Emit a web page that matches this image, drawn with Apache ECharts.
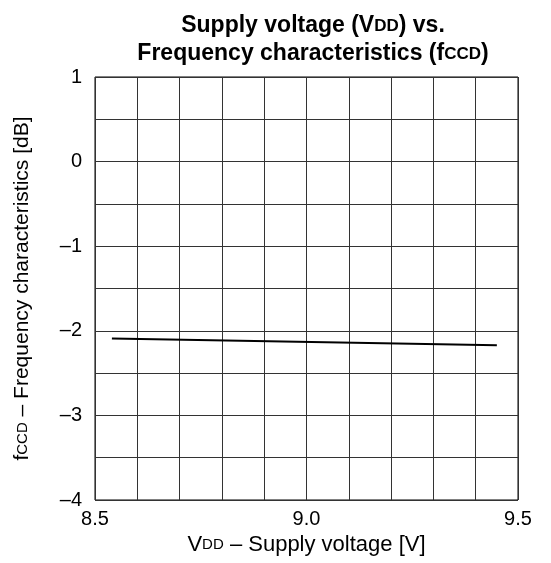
<!DOCTYPE html>
<html>
<head>
<meta charset="utf-8">
<script src="https://cdn.jsdelivr.net/npm/echarts@6/dist/echarts.min.js"></script>
<style>
  html, body { margin: 0; padding: 0; background: #fff; }
  #chart { width: 551px; height: 563px; }
</style>
</head>
<body>
<div id="chart"></div>
<script>
// supply voltage [V] vs frequency characteristics [dB]
const vdd = [8.54, 9.45];
const fccd = [-2.09, -2.17];

const xTickLabels = ['8.5', '9.0', '9.5'];
const yTickLabels = ['1', '0', '–1', '–2', '–3', '–4'];

const FONT = 'Liberation Sans, Arial, sans-serif';

function initChart() {
    let chart = echarts.init(document.getElementById('chart'));
    let points = vdd.map(function (v, i) { return [v, fccd[i]]; });

    let option = {
        animation: false,
        title: {
            text: '{b|Supply voltage (V}{s|DD}{b|) vs.}\n{b|Frequency characteristics (f}{s|CCD}{b|)}',
            left: 308,
            top: 7,
            textAlign: 'center',
            textStyle: {
                fontFamily: FONT,
                rich: {
                    b: { fontSize: 23, fontWeight: 'bold', color: '#000', fontFamily: FONT, lineHeight: 28 },
                    s: { fontSize: 17, fontWeight: 'bold', color: '#000', fontFamily: FONT, lineHeight: 28 }
                }
            }
        },
        grid: {
            left: 95,
            top: 77,
            width: 423,
            height: 423,
            show: true,
            borderColor: '#000',
            borderWidth: 1
        },
        xAxis: {
            type: 'value',
            min: 8.5,
            max: 9.5,
            interval: 0.1,
            name: '{n|V}{s|DD}{n| – Supply voltage [V]}',
            nameLocation: 'middle',
            nameGap: 31,
            nameTextStyle: {
                rich: {
                    n: { fontSize: 22, color: '#000', fontFamily: FONT },
                    s: { fontSize: 15, color: '#000', fontFamily: FONT }
                }
            },
            axisLine: { show: false },
            axisTick: { show: false },
            splitLine: { show: true, lineStyle: { color: '#333', width: 1 } },
            axisLabel: {
                color: '#000',
                fontSize: 20,
                fontFamily: FONT,
                margin: 9,
                formatter: function (v) {
                    let k = Math.round((v - 8.5) * 2);
                    if (Math.abs((v - 8.5) * 2 - k) < 1e-6) return xTickLabels[k];
                    return '';
                }
            }
        },
        yAxis: {
            type: 'value',
            min: -4,
            max: 1,
            interval: 0.5,
            name: '{n|f}{s|CCD}{n| – Frequency characteristics [dB]}',
            nameLocation: 'middle',
            nameRotate: 90,
            nameGap: 62,
            nameTextStyle: {
                rich: {
                    n: { fontSize: 21, color: '#000', fontFamily: FONT },
                    s: { fontSize: 15, color: '#000', fontFamily: FONT }
                }
            },
            axisLine: { show: false },
            axisTick: { show: false },
            splitLine: { show: true, lineStyle: { color: '#333', width: 1 } },
            axisLabel: {
                color: '#000',
                fontSize: 20,
                fontFamily: FONT,
                margin: 13,
                formatter: function (v) {
                    let k = Math.round(1 - v);
                    if (Math.abs((1 - v) - k) < 1e-6) return yTickLabels[k];
                    return '';
                }
            }
        },
        series: [
            {
                type: 'line',
                data: points,
                showSymbol: false,
                lineStyle: { color: '#000', width: 2 }
            }
        ]
    };
    chart.setOption(option);
}

initChart();
</script>
</body>
</html>
